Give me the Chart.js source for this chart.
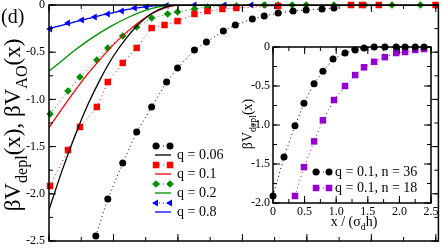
<!DOCTYPE html>
<html>
<head>
<meta charset="utf-8">
<script src="https://cdn.jsdelivr.net/npm/chart.js@4"></script>
<style>
  html, body { margin: 0; padding: 0; background: #fff; }
  #wrap { position: relative; width: 443px; height: 248px; }
  #main { position: absolute; left: 0; top: 0; }
  #inset { position: absolute; left: 233px; top: 38px; }
  #probe { position: absolute; left: -999px; font-family: "Liberation Serif"; }
</style>
</head>
<body>
<div id="wrap">
  <canvas id="main" width="443" height="248"></canvas>
  <canvas id="inset" width="205" height="200"></canvas>
</div>
<div id="probe">βV q = 0.1</div>
<script>
// ---- main panel data: simulation (symbols) and AO theory (lines) ----
const qLabels = ['q = 0.06', 'q = 0.1', 'q = 0.2', 'q = 0.8'];

const simX_006 = [0.363, 0.456, 0.572, 0.680, 0.796, 0.912, 0.997, 1.128, 1.221, 1.352, 1.445, 1.577, 1.669, 1.777, 1.893, 1.994, 2.117, 2.210];
const simY_006 = [-2.447, -2.055, -1.674, -1.345, -1.080, -0.816, -0.667, -0.477, -0.392, -0.275, -0.212, -0.148, -0.117, -0.085, -0.064, -0.053, -0.042, -0.032];

const simX_01 = [0.008, 0.147, 0.240, 0.371, 0.456, 0.572, 0.680, 0.796, 0.896, 0.997, 1.128, 1.229, 1.345, 1.453, 1.777, 2.342, 2.427, 2.558, 2.998];
const simY_01 = [-1.917, -1.536, -1.292, -1.080, -0.816, -0.614, -0.455, -0.244, -0.212, -0.170, -0.095, -0.064, -0.042, -0.032, -0.010, 0, 0, 0, 0];

const simX_02 = [0.008, 0.147, 0.240, 0.371, 0.456, 0.572, 0.680, 0.796, 0.920, 0.997, 1.128, 1.229, 1.453, 1.669, 1.777, 1.886, 1.994, 2.210, 2.450, 2.660, 2.880];
const simY_02 = [-1.155, -0.911, -0.763, -0.583, -0.455, -0.328, -0.233, -0.138, -0.095, -0.074, -0.042, -0.021, -0.010, 0, 0, 0, 0, 0, 0, 0, 0];

const simX_08 = [0.008, 0.147, 0.255, 0.355, 0.456, 0.564, 0.665, 0.757, 0.912, 1.128, 1.360, 1.569, 1.669];
const simY_08 = [-0.254, -0.191, -0.159, -0.127, -0.095, -0.064, -0.032, -0.021, -0.005, 0, 0, 0, 0];

const theoryX = [0, 0.1, 0.2, 0.3, 0.4, 0.5, 0.6, 0.7, 0.8, 0.9, 1.0, 3.02];
const theoryY_006 = [-2.17, -1.76, -1.39, -1.06, -0.78, -0.54, -0.35, -0.195, -0.087, -0.022, 0, 0];
const theoryY_01 = [-1.30, -1.10, -0.91, -0.73, -0.57, -0.42, -0.29, -0.18, -0.09, -0.03, 0, 0];
const theoryY_02 = [-0.70, -0.59, -0.48, -0.38, -0.29, -0.21, -0.14, -0.08, -0.035, -0.008, 0, 0];
const theoryY_08 = [-0.25, -0.215, -0.18, -0.145, -0.11, -0.08, -0.05, -0.027, -0.01, -0.002, 0, 0];

// ---- inset data: q = 0.1 for two chain lengths ----
const insetLabels = ['q = 0.1, n = 36', 'q = 0.1, n = 18'];
const insetX_36 = [0, 0.174, 0.348, 0.49, 0.65, 0.79, 0.95, 1.14, 1.30, 1.44, 1.60, 1.77, 1.95, 2.09, 2.25, 2.39];
const insetY_36 = [-1.91, -1.41, -1.01, -0.72, -0.47, -0.31, -0.154, -0.077, -0.038, -0.013, 0, 0, 0, 0, 0, 0];
const insetX_18 = [0.348, 0.49, 0.65, 0.79, 0.965, 1.14, 1.30, 1.44, 1.60, 1.77, 1.95, 2.09, 2.25, 2.39];
const insetY_18 = [-1.91, -1.54, -1.21, -0.94, -0.68, -0.50, -0.36, -0.26, -0.19, -0.13, -0.077, -0.064, -0.038, -0.026];

const SERIF = '"Times New Roman", "Liberation Serif", Times, serif';
const RED = '#ff0000', GREEN = '#008f00', BLUE = '#0000ff', VIOLET = '#9400d3';

const pts = (xs, ys) => xs.map((x, i) => ({ x: x, y: ys[i] }));

function sim(label, xs, ys, color, style, r, rot) {
    return {
        label: label,
        data: pts(xs, ys),
        showLine: true,
        borderColor: color,
        backgroundColor: color,
        borderWidth: 1,
        borderDash: [1, 3],
        pointStyle: style,
        pointRadius: r,
        pointRotation: rot || 0,
        pointBorderWidth: 0,
        clip: false
    };
}

function theory(xs, ys, color) {
    return {
        label: '',
        data: pts(xs, ys),
        showLine: true,
        borderColor: color,
        borderWidth: 1.3,
        pointRadius: 0,
        cubicInterpolationMode: 'monotone'
    };
}

// text with subscripts: parts = [[text, isSub], ...]
function fontOf(size) {
    return Math.round(size * 10) / 10 + 'px ' + SERIF;
}
function richWidth(ctx, parts, size) {
    let w = 0;
    parts.forEach(p => {
        ctx.font = fontOf(p[1] ? size * 0.7 : size);
        w += ctx.measureText(p[0]).width;
    });
    return w;
}
function drawRich(ctx, parts, x, y, size) {
    let cx = x;
    parts.forEach(p => {
        ctx.font = fontOf(p[1] ? size * 0.7 : size);
        ctx.fillText(p[0], cx, p[1] ? y + size * 0.3 : y);
        cx += ctx.measureText(p[0]).width;
    });
}
function drawRichRotated(ctx, parts, bx, cy, size) {
    ctx.save();
    ctx.translate(bx, cy);
    ctx.rotate(-Math.PI / 2);
    ctx.textBaseline = 'alphabetic';
    drawRich(ctx, parts, -richWidth(ctx, parts, size) / 2, 0, size);
    ctx.restore();
}

// frame box with inward ticks on all four sides
const frameTicks = {
    id: 'frameTicks',
    afterDatasetsDraw(chart, args, o) {
        const { ctx, chartArea: a, scales } = chart;
        ctx.save();
        ctx.strokeStyle = '#000';
        ctx.setLineDash([]);
        ctx.lineWidth = 1;
        const each = (sc, step, fn) => {
            for (let v = sc.min; v <= sc.max + 1e-9; v += step) fn(sc.getPixelForValue(v));
        };
        ctx.beginPath();
        [[o.minor, 4], [o.major, 7]].forEach(([step, len]) => {
            each(scales.x, step, px => {
                ctx.moveTo(px, a.bottom); ctx.lineTo(px, a.bottom - len);
                ctx.moveTo(px, a.top); ctx.lineTo(px, a.top + len);
            });
            each(scales.y, step, py => {
                ctx.moveTo(a.left, py); ctx.lineTo(a.left + len, py);
                ctx.moveTo(a.right, py); ctx.lineTo(a.right - len, py);
            });
        });
        ctx.stroke();
        ctx.lineWidth = 1.5;
        ctx.strokeRect(a.left, a.top, a.right - a.left, a.bottom - a.top);
        ctx.restore();
    }
};

function drawLegendRow(ctx, ds, x0, x1, y) {
    ctx.strokeStyle = ds.borderColor;
    ctx.fillStyle = ds.backgroundColor;
    ctx.lineWidth = ds.borderWidth;
    ctx.setLineDash(ds.borderDash || []);
    ctx.beginPath(); ctx.moveTo(x0, y); ctx.lineTo(x1, y); ctx.stroke();
    ctx.setLineDash([]);
    [x0 + 1, x1 - 1].forEach(x => Chart.helpers.drawPoint(ctx, {
        pointStyle: ds.pointStyle, radius: ds.pointRadius, rotation: ds.pointRotation, borderWidth: 0
    }, x, y));
}

const mainDecor = {
    id: 'mainDecor',
    afterDraw(chart) {
        const ctx = chart.ctx, ds = chart.data.datasets;
        ctx.save();
        ctx.fillStyle = '#000';
        ctx.font = fontOf(20);
        ctx.textBaseline = 'alphabetic';
        ctx.fillText('(d)', 1, 23);
        drawRichRotated(ctx, [['βV', 0], ['depl', 1], ['(x), βV', 0], ['AO', 1], ['(x)', 0]], 20, 125, 23);
        qLabels.forEach((lab, i) => {
            const sym = ds[2 * i], th = ds[2 * i + 1];
            const ym = 146 + 19 * i, yl = ym + 9;
            drawLegendRow(ctx, sym, 155, 171, ym);
            ctx.strokeStyle = th.borderColor;
            ctx.lineWidth = th.borderWidth;
            ctx.beginPath(); ctx.moveTo(155, yl); ctx.lineTo(171, yl); ctx.stroke();
            ctx.fillStyle = '#000';
            ctx.font = fontOf(14);
            ctx.textBaseline = 'middle';
            ctx.fillText(lab, 177, yl);
        });
        ctx.restore();
    }
};

const insetDecor = {
    id: 'insetDecor',
    afterDraw(chart) {
        const ctx = chart.ctx, ds = chart.data.datasets;
        ctx.save();
        ctx.fillStyle = '#000';
        drawRichRotated(ctx, [['βV', 0], ['depl', 1], ['(x)', 0]], 19, 86, 14);
        ctx.textBaseline = 'alphabetic';
        const parts = [['x / (σ', 0], ['d', 1], ['h)', 0]];
        drawRich(ctx, parts, 121 - richWidth(ctx, parts, 14) / 2, 188, 14);
        insetLabels.forEach((lab, i) => {
            const y = 134 + 16 * i;
            drawLegendRow(ctx, ds[i], 82, 97, y);
            ctx.fillStyle = '#000';
            ctx.font = fontOf(14);
            ctx.textBaseline = 'middle';
            ctx.fillText(lab, 102, y);
        });
        ctx.restore();
    }
};

const tickFont = { family: SERIF, size: 12 };

new Chart(document.getElementById('main'), {
    type: 'scatter',
    data: {
        datasets: [
            sim(qLabels[0], simX_006, simY_006, '#000', 'circle', 3.5),
            theory(theoryX, theoryY_006, '#000'),
            sim(qLabels[1], simX_01, simY_01, RED, 'rect', 4.6),
            theory(theoryX, theoryY_01, RED),
            sim(qLabels[2], simX_02, simY_02, GREEN, 'rectRot', 3.8),
            theory(theoryX, theoryY_02, GREEN),
            sim(qLabels[3], simX_08, simY_08, BLUE, 'triangle', 4, 270),
            theory(theoryX, theoryY_08, BLUE)
        ]
    },
    options: {
        responsive: false,
        animation: false,
        layout: { padding: { top: 5, right: 3, bottom: 7, left: 0 } },
        plugins: { legend: { display: false }, tooltip: { enabled: false }, frameTicks: { major: 0.5, minor: 0.25 } },
        scales: {
            x: { type: 'linear', min: 0, max: 3.02, display: false },
            y: {
                min: -2.5, max: 0,
                grid: { display: false, drawTicks: false },
                border: { display: false },
                ticks: { stepSize: 0.5, padding: 4, color: '#000', font: tickFont },
                afterFit(s) { s.width = 49; s.paddingTop = 0; s.paddingBottom = 0; }
            }
        }
    },
    plugins: [frameTicks, mainDecor]
});

new Chart(document.getElementById('inset'), {
    type: 'scatter',
    data: {
        datasets: [
            sim(insetLabels[0], insetX_36, insetY_36, '#000', 'circle', 3.5),
            sim(insetLabels[1], insetX_18, insetY_18, VIOLET, 'rect', 4.6)
        ]
    },
    options: {
        responsive: false,
        animation: false,
        layout: { padding: { top: 9, right: 7, bottom: 0, left: 0 } },
        plugins: { legend: { display: false }, tooltip: { enabled: false }, frameTicks: { major: 0.5, minor: 0.25 } },
        scales: {
            x: {
                type: 'linear', min: 0, max: 2.5,
                grid: { display: false, drawTicks: false },
                border: { display: false },
                ticks: { stepSize: 0.5, padding: 2, color: '#000', font: tickFont, maxRotation: 0 },
                afterFit(s) { s.height = 35; s.paddingLeft = 0; s.paddingRight = 0; }
            },
            y: {
                min: -2, max: 0,
                grid: { display: false, drawTicks: false },
                border: { display: false },
                ticks: { stepSize: 0.5, padding: 3, color: '#000', font: tickFont },
                afterFit(s) { s.width = 40; s.paddingTop = 0; s.paddingBottom = 0; }
            }
        }
    },
    plugins: [frameTicks, insetDecor]
});
</script>
</body>
</html>
